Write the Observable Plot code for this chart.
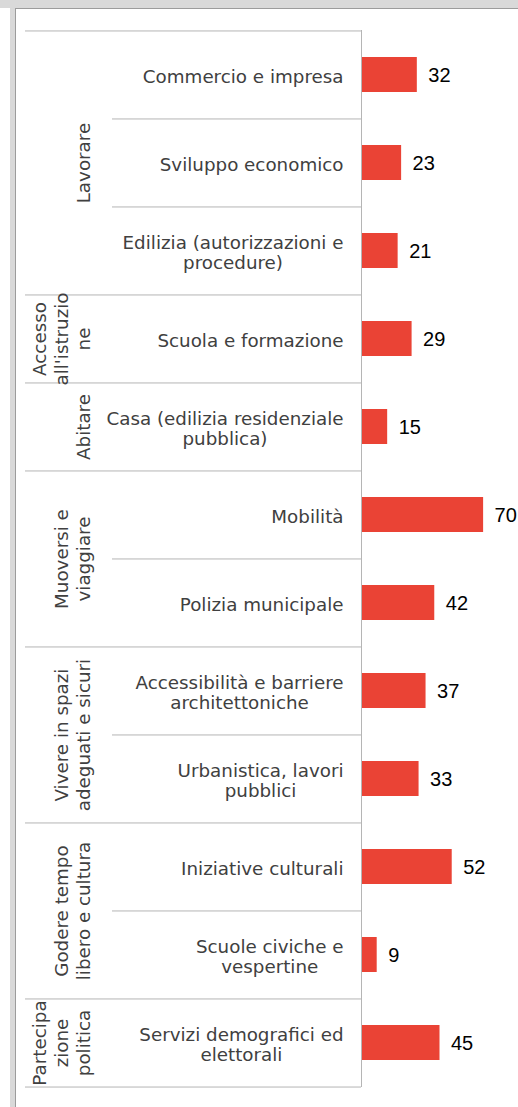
<!DOCTYPE html>
<html>
<head>
<meta charset="utf-8">
<script src="https://cdn.jsdelivr.net/npm/d3@7"></script>
<script src="https://cdn.jsdelivr.net/npm/@observablehq/plot@0.6"></script>
<style>
  html, body { margin: 0; padding: 0; background: #ffffff; }
  body { width: 518px; height: 1107px; position: relative; overflow: hidden; }
  .chrome { position: absolute; }
  #chart { position: absolute; left: 0; top: 0; }
</style>
</head>
<body>
<div class="chrome" style="left:0;top:0;width:518px;height:8px;background:#d9d9d9"></div>
<div class="chrome" style="left:10px;top:8px;width:5px;height:1099px;background:#d9d9d9"></div>
<div class="chrome" style="left:15px;top:8px;width:503px;height:1px;background:#9c9c9c"></div>
<div class="chrome" style="left:15px;top:8px;width:1px;height:1099px;background:#9c9c9c"></div>
<div id="chart"></div>
<script>
// ---- data ----
const categories = [
  "Commercio e impresa",
  "Sviluppo economico",
  "Edilizia (autorizzazioni e procedure)",
  "Scuola e formazione",
  "Casa (edilizia residenziale pubblica)",
  "Mobilità",
  "Polizia municipale",
  "Accessibilità e barriere architettoniche",
  "Urbanistica, lavori pubblici",
  "Iniziative culturali",
  "Scuole civiche e vespertine",
  "Servizi demografici ed elettorali"
];
const categoryLabels = [
  "Commercio e impresa",
  "Sviluppo economico",
  "Edilizia (autorizzazioni e\nprocedure)",
  "Scuola e formazione",
  "Casa (edilizia residenziale\npubblica)",
  "Mobilità",
  "Polizia municipale",
  "Accessibilità e barriere\narchitettoniche",
  "Urbanistica, lavori\npubblici",
  "Iniziative culturali",
  "Scuole civiche e\nvespertine",
  "Servizi demografici ed\nelettorali"
];
const values = [32, 23, 21, 29, 15, 70, 42, 37, 33, 52, 9, 45];
const groupLabels = [
  "Lavorare",
  "Accesso\nall'istruzio\nne",
  "Abitare",
  "Muoversi e\nviaggiare",
  "Vivere in spazi\nadeguati e sicuri",
  "Godere tempo\nlibero e cultura",
  "Partecipa\nzione\npolitica"
];
const groupSizes = [3, 1, 1, 2, 2, 2, 1];

// ---- layout / style ----
const W = 518, H = 1107;
const mTop = 30, mBottom = 20, mLeft = 361, mRight = 0;
const xMax = 90;
const step = (H - mTop - mBottom) / categories.length;
const px2x = d3.scaleLinear().domain([mLeft, W - mRight]).range([0, xMax]);
const tableLeftPx = 25, innerLeftPx = 112, labelRightPx = 343, groupBaselinePx = 89;
const labelFont = "DejaVu Sans";
const labelSize = 18.3;
const lineColor = "#b5b5b5";
const textColor = "#404040";

const ctx = document.createElement("canvas").getContext("2d");
ctx.font = `${labelSize}px "${labelFont}"`;
const blockWidth = (s) => Math.max(...s.split("\n").map(l => ctx.measureText(l).width));

const rows = categories.map((c, i) => ({
  category: c, label: categoryLabels[i], value: values[i], w: blockWidth(categoryLabels[i])
}));

// group starts
const groupStarts = [];
groupSizes.reduce((s, k) => { groupStarts.push(s); return s + k; }, 0);
const isGroupStart = new Set(groupStarts);

const fullLines = categories.filter((c, i) => isGroupStart.has(i));
const innerLines = categories.filter((c, i) => !isGroupStart.has(i));

const groupMarks = groupLabels.map((g, gi) => Plot.text([g], {
  x: () => px2x(groupBaselinePx),
  y: () => categories[groupStarts[gi]],
  text: d => d,
  rotate: -90,
  textAnchor: "middle",
  lineAnchor: "bottom",
  lineHeight: 1.2,
  dy: (groupSizes[gi] - 1) * step / 2,
  fontFamily: labelFont,
  fontSize: labelSize,
  fill: textColor
}));

const chart = Plot.plot({
  width: W,
  height: H,
  marginTop: mTop,
  marginBottom: mBottom,
  marginLeft: mLeft,
  marginRight: mRight,
  style: { background: "transparent", overflow: "visible" },
  x: { domain: [0, xMax], axis: null },
  y: { domain: categories, axis: null, paddingInner: 0.6, paddingOuter: 0.3 },
  marks: [
    // full-width table lines (group boundaries)
    Plot.ruleY(fullLines, { y: d => d, x1: px2x(tableLeftPx), x2: 0, dy: -step / 2, stroke: lineColor, strokeWidth: 1 }),
    Plot.ruleY([categories[categories.length - 1]], { y: d => d, x1: px2x(tableLeftPx), x2: 0, dy: step / 2, stroke: lineColor, strokeWidth: 1 }),
    // inner lines (category boundaries)
    Plot.ruleY(innerLines, { y: d => d, x1: px2x(innerLeftPx), x2: 0, dy: -step / 2, stroke: lineColor, strokeWidth: 1 }),
    // bars
    Plot.barX(rows, { x: "value", y: "category", fill: "#ea4335" }),
    // axis line
    Plot.ruleX([0], { stroke: lineColor, strokeWidth: 1 }),
    // value labels
    Plot.text(rows, {
      x: "value", y: "category", text: d => String(d.value),
      textAnchor: "start", dx: 11, dy: 1,
      fontFamily: "Liberation Sans, Arial, sans-serif", fontSize: 20, fill: "#000000"
    }),
    // category labels
    Plot.text(rows, {
      x: d => px2x(labelRightPx - d.w / 2), y: "category", text: "label",
      textAnchor: "middle", lineAnchor: "middle", lineHeight: 1.09, dy: 1.3,
      fontFamily: labelFont, fontSize: labelSize, fill: textColor
    }),
    ...groupMarks
  ]
});
document.getElementById("chart").appendChild(chart);
</script>
</body>
</html>
